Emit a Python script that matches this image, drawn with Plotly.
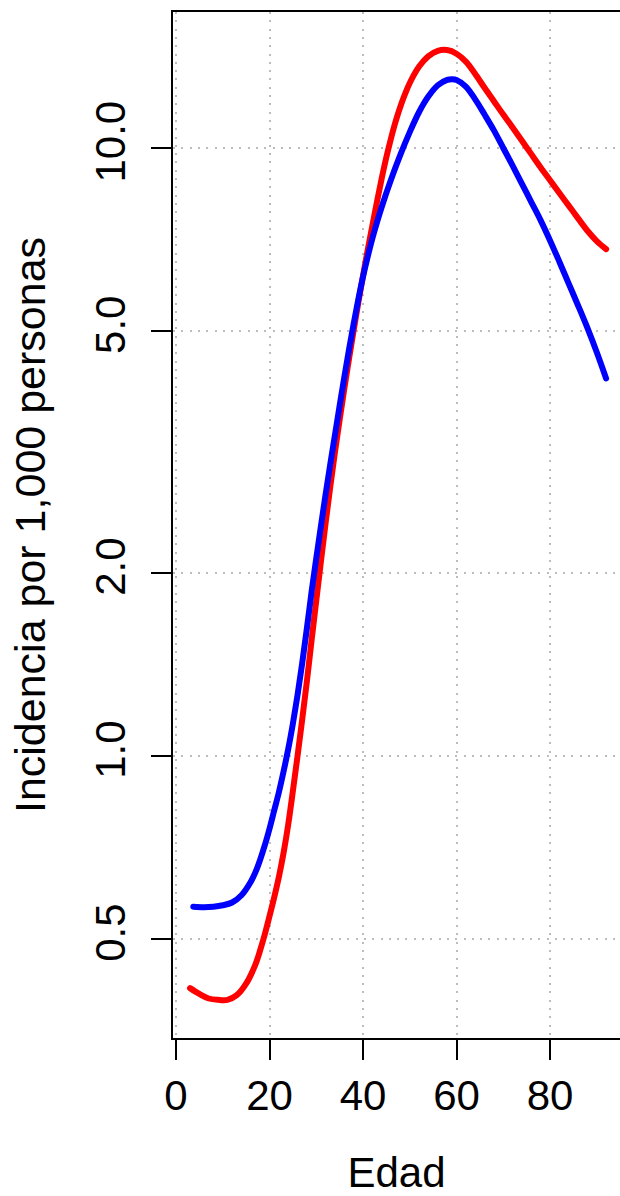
import plotly.graph_objects as go

# Red series (age, incidence per 1,000)
red_age = [3, 5, 7, 9, 11, 13, 15, 17, 18, 19, 20, 21, 22, 23, 24, 25, 26, 27, 28, 29,
           30, 31, 32, 33, 34, 35, 36, 37, 38, 39, 40, 41, 42, 43, 44, 45, 46, 47, 48,
           49, 50, 52, 54, 56, 58, 60, 62, 64, 66, 68, 70, 72, 74, 76, 78, 80, 82, 84,
           86, 88, 90, 92]
red_val = [0.415, 0.406, 0.399, 0.397, 0.397, 0.404, 0.422, 0.454, 0.479, 0.509,
           0.545, 0.585, 0.632, 0.692, 0.771, 0.875, 1.000, 1.148, 1.327, 1.549,
           1.799, 2.089, 2.415, 2.773, 3.162, 3.573, 4.018, 4.498, 5.012, 5.572,
           6.166, 6.792, 7.447, 8.166, 8.913, 9.661, 10.38, 11.07, 11.70,
           12.27, 12.79, 13.61, 14.16, 14.45, 14.49, 14.29, 13.87, 13.24, 12.56,
           11.94, 11.35, 10.81, 10.28, 9.77, 9.29, 8.85, 8.43, 8.04,
           7.66, 7.31, 7.03, 6.82]

# Blue series
blue_age = [3.7, 6, 8, 10, 12, 14, 16, 17, 18, 19, 20, 21, 22, 23, 24, 25, 26, 27, 28,
            29, 30, 31, 32, 33, 34, 35, 36, 37, 38, 39, 40, 41, 42, 43, 44, 46, 48, 50,
            52, 54, 56, 58, 59, 60, 62, 64, 66, 68, 70, 72, 74, 76, 78, 80, 82, 84, 86,
            88, 90, 92]
blue_val = [0.565, 0.564, 0.565, 0.568, 0.574, 0.590, 0.621, 0.644, 0.675, 0.713,
            0.759, 0.813, 0.871, 0.942, 1.026, 1.130, 1.259, 1.422, 1.622,
            1.861, 2.113, 2.388, 2.692, 3.020, 3.373, 3.767, 4.198, 4.656, 5.140,
            5.636, 6.138, 6.622, 7.096, 7.551, 7.998, 8.872, 9.750, 10.62,
            11.46, 12.16, 12.68, 12.94, 12.97, 12.94, 12.62, 12.02, 11.35, 10.69,
            10.00, 9.354, 8.730, 8.147, 7.603, 7.047, 6.501, 5.984, 5.508,
            5.058, 4.613, 4.178]

x_ticks = [0, 20, 40, 60, 80]
y_ticks = [0.5, 1, 2, 5, 10]
y_ticktext = ["0.5", "1.0", "2.0", "5.0", "10.0"]

FONT = "Liberation Sans, Arial, Helvetica, sans-serif"

fig = go.Figure()
fig.add_trace(go.Scatter(x=red_age, y=red_val, mode="lines",
                         line=dict(color="#FF0000", width=6, shape="spline", smoothing=1.0),
                         showlegend=False, hoverinfo="skip"))
fig.add_trace(go.Scatter(x=blue_age, y=blue_val, mode="lines",
                         line=dict(color="#0000FF", width=6, shape="spline", smoothing=1.0),
                         showlegend=False, hoverinfo="skip"))

fig.update_layout(
    width=620, height=1196,
    margin=dict(l=173, r=0, t=12, b=158, autoexpand=False),
    paper_bgcolor="white", plot_bgcolor="white",
    font=dict(family=FONT, color="black", size=42),
    showlegend=False,
)

fig.update_xaxes(
    range=[-0.64, 94.97],
    tickvals=x_ticks, ticktext=[str(v) for v in x_ticks],
    ticks="outside", ticklen=20, tickwidth=1.8, tickcolor="black",
    showline=True, linewidth=1.8, linecolor="black", mirror=True,
    showgrid=True, gridcolor="#bdbdbd", gridwidth=1.5, griddash="2px,6.3px",
    zeroline=False,
    tickfont=dict(size=42, family=FONT),
    ticklabelstandoff=0,
    title=dict(text="Edad", font=dict(size=42, family=FONT), standoff=41),
    automargin=False,
)

fig.update_yaxes(
    type="log", range=[-0.464, 1.2237],
    tickvals=y_ticks, ticktext=y_ticktext, tickangle=-90,
    ticks="outside", ticklen=20, tickwidth=1.8, tickcolor="black",
    showline=True, linewidth=1.8, linecolor="black", mirror=False,
    showgrid=True, gridcolor="#bdbdbd", gridwidth=1.5, griddash="2px,6.3px",
    zeroline=False,
    tickfont=dict(size=42, family=FONT),
    ticklabelstandoff=9,
    title=dict(text="Incidencia por 1,000 personas", font=dict(size=43, family=FONT), standoff=28),
    automargin=False,
)

post = (
    "document.body.style.margin='0';"
    "document.body.style.overflow='hidden';"
    "document.querySelectorAll('.js-line').forEach(function(p){"
    "p.style.strokeLinecap='round';p.style.strokeLinejoin='round';});"
)

fig.write_html("out.html", post_script=post, config={"displayModeBar": False})
